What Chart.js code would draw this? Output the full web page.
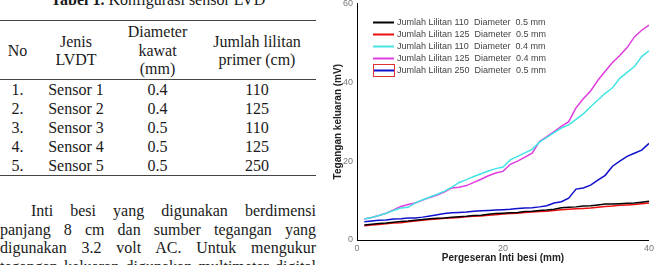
<!DOCTYPE html>
<html>
<head>
<meta charset="utf-8">
<script src="https://cdn.jsdelivr.net/npm/chart.js@4.4.1/dist/chart.umd.min.js"></script>
<style>
html, body { margin:0; padding:0; background:#fff; }
body { width:657px; height:265px; overflow:hidden; position:relative; font-family:"Liberation Serif","Times New Roman",serif; color:#1a1a1a; }
#tblTitle { position:absolute; left:0; top:-9px; width:316px; text-align:center; font-size:16px; line-height:18px; }
table { position:absolute; left:0; top:20px; width:316px; border-collapse:collapse; font-size:16px; table-layout:fixed; }
th, td { text-align:center; padding:0; font-weight:normal; }
thead th { line-height:18.5px; height:56px; vertical-align:middle; padding-top:2px; border-top:1px solid #444; border-bottom:1px solid #444; }
tbody td { height:19px; line-height:19px; }
tbody tr:last-child td { border-bottom:1px solid #444; }
#para { position:absolute; left:0; top:202px; width:316px; font-size:16px; line-height:18.5px; text-align:justify; text-indent:31px; margin:0; }
#chartBox { position:absolute; left:328px; top:-6px; width:329px; height:271px; }
</style>
</head>
<body>
<div id="tblTitle"><b>Tabel 1.</b> Konfigurasi sensor LVD</div>
<table>
  <colgroup><col style="width:35px"><col style="width:82px"><col style="width:81px"><col style="width:118px"></colgroup>
  <thead>
    <tr><th>No</th><th>Jenis<br>LVDT</th><th>Diameter<br>kawat<br>(mm)</th><th>Jumlah lilitan<br>primer (cm)</th></tr>
  </thead>
  <tbody>
    <tr><td>1.</td><td>Sensor 1</td><td>0.4</td><td>110</td></tr>
    <tr><td>2.</td><td>Sensor 2</td><td>0.4</td><td>125</td></tr>
    <tr><td>3.</td><td>Sensor 3</td><td>0.5</td><td>110</td></tr>
    <tr><td>4.</td><td>Sensor 4</td><td>0.5</td><td>125</td></tr>
    <tr><td>5.</td><td>Sensor 5</td><td>0.5</td><td>250</td></tr>
  </tbody>
</table>
<p id="para">Inti besi yang digunakan berdimensi panjang 8 cm dan sumber tegangan yang digunakan 3.2 volt AC. Untuk mengukur tegangan keluaran digunakan multimeter digital yang dihubungkan dengan kumparan sekunder.</p>
<div id="chartBox"><canvas id="myChart" width="329" height="271"></canvas></div>
<script>
// pergeseran inti besi (mm)
var displacement = [1,2,3,4,5,6,7,8,9,10,11,12,13,14,15,16,17,18,19,20,
                    21,22,23,24,25,26,27,28,29,30,31,32,33,34,35,36,37,38,39,40];

var seriesLabels = [
    'Jumlah Lilitan 110  Diameter  0.5 mm',
    'Jumlah Lilitan 125  Diameter  0.5 mm',
    'Jumlah Lilitan 110  Diameter  0.4 mm',
    'Jumlah Lilitan 125  Diameter  0.4 mm',
    'Jumlah Lilitan 250  Diameter  0.5 mm'
];

// tegangan keluaran (mV)
var lil110d05 = [3.8,4.0,4.2,4.3,4.5,4.7,4.8,5.0,5.2,5.4,5.5,5.6,5.8,5.9,6.0,6.2,6.3,6.5,6.7,6.8,
                 6.9,7.0,7.2,7.3,7.5,7.6,7.8,8.2,8.3,8.4,8.6,8.7,8.9,9.1,9.1,9.2,9.3,9.4,9.6,9.8];
var lil125d05 = [3.6,3.8,3.9,4.1,4.3,4.4,4.6,4.8,5.0,5.2,5.3,5.5,5.6,5.7,5.9,6.0,6.1,6.3,6.4,6.6,
                 6.7,6.8,7.0,7.1,7.2,7.3,7.5,7.7,7.8,7.9,8.0,8.1,8.3,8.5,8.6,8.8,8.9,9.0,9.2,9.4];
var lil110d04 = [5.3,5.7,6.2,6.8,7.5,8.1,8.3,9.4,10.2,10.9,11.6,12.4,13.4,14.6,15.3,16.1,16.8,17.5,18.1,18.5,
                 20.3,21.2,22.1,23.0,24.8,26.0,27.2,28.4,29.2,30.6,32.0,33.8,35.5,37.2,38.6,41.0,42.5,44.0,46.5,48.0];
var lil125d04 = [5.3,5.7,6.2,6.8,7.6,8.5,9.0,9.4,10.1,10.8,11.4,12.2,13.2,13.4,13.8,14.6,15.4,16.3,17.0,17.4,
                 19.2,20.0,21.0,22.0,25.0,26.2,27.5,28.8,30.0,33.5,35.8,37.8,40.5,42.8,45.0,46.8,48.8,51.5,53.2,54.5];
var lil250d05 = [4.6,4.8,5.0,5.1,5.3,5.4,5.6,5.6,5.8,6.1,6.4,6.7,6.9,7.0,7.1,7.3,7.4,7.5,7.6,7.7,
                 7.8,8.0,8.1,8.2,8.4,8.7,9.4,9.7,10.6,12.9,13.2,13.9,15.2,16.4,18.7,20.0,21.2,22.0,22.8,24.5];

var xTicks = [0, 20, 40];
var yTicks = [0, 20, 40, 60];

var allSeries = [lil110d05, lil125d05, lil110d04, lil125d04, lil250d05];
var lineColors = ['#000000', '#ee1010', '#44e4e4', '#e03ce0', '#1010cc'];

function toPoints(vals) {
    return vals.map(function (v, i) { return { x: displacement[i], y: v }; });
}

// legend drawn inside the plot, top left
var insideLegend = {
    id: 'insideLegend',
    afterDraw: function (chart) {
        var ctx = chart.ctx;
        var area = chart.chartArea;
        ctx.save();
        ctx.font = '9px "Liberation Sans", Arial, sans-serif';
        ctx.textBaseline = 'middle';
        chart.data.datasets.forEach(function (ds, i) {
            var y = Math.round(area.top + 19 + i * 12) + 0.5;
            var x0 = area.left + 16;
            ctx.strokeStyle = ds.borderColor;
            ctx.lineWidth = 2;
            ctx.beginPath();
            ctx.moveTo(x0, y);
            ctx.lineTo(x0 + 21, y);
            ctx.stroke();
            ctx.fillStyle = '#444';
            ctx.fillText(ds.label, x0 + 24, y);
            if (i === chart.data.datasets.length - 1) {
                ctx.strokeStyle = '#dd3333';
                ctx.lineWidth = 1;
                ctx.strokeRect(x0 + 0.5, y - 6, 21, 12);
            }
        });
        ctx.restore();
    }
};

var ctx = document.getElementById('myChart').getContext('2d');
var lvdtChart = new Chart(ctx, {
    type: 'line',
    data: {
        datasets: allSeries.map(function (vals, i) {
            return {
                label: seriesLabels[i],
                data: toPoints(vals),
                borderColor: lineColors[i],
                borderWidth: 1.5,
                pointRadius: 0,
                tension: 0,
                fill: false
            };
        })
    },
    options: {
        responsive: false,
        animation: false,
        layout: { padding: { top: 0, right: 3, bottom: 0, left: 0 } },
        scales: {
            x: {
                type: 'linear',
                min: xTicks[0],
                max: xTicks[xTicks.length - 1],
                afterBuildTicks: function (axis) {
                    axis.ticks = xTicks.map(function (v) { return { value: v }; });
                },
                afterFit: function (axis) { axis.height = 25; },
                grid: { display: false, drawTicks: false },
                border: { display: true, color: '#000', width: 1 },
                ticks: {
                    padding: 3,
                    maxRotation: 0,
                    color: '#777',
                    font: { family: '"Liberation Sans", Arial, sans-serif', size: 9 }
                },
                title: {
                    display: true,
                    text: 'Pergeseran Inti besi (mm)',
                    color: '#222',
                    padding: { top: 0, bottom: 1 },
                    font: { family: '"Liberation Sans", Arial, sans-serif', size: 10, weight: 'bold' }
                }
            },
            y: {
                min: yTicks[0],
                max: yTicks[yTicks.length - 1],
                afterBuildTicks: function (axis) {
                    axis.ticks = yTicks.map(function (v) { return { value: v }; });
                },
                afterFit: function (axis) { axis.width = 29; },
                grid: { display: false, drawTicks: false },
                border: { display: true, color: '#000', width: 1 },
                ticks: {
                    padding: 4,
                    color: '#777',
                    font: { family: '"Liberation Sans", Arial, sans-serif', size: 9 }
                },
                title: {
                    display: true,
                    text: 'Tegangan keluaran (mV)',
                    color: '#222',
                    padding: { top: 4, bottom: 0 },
                    font: { family: '"Liberation Sans", Arial, sans-serif', size: 10, weight: 'bold' }
                }
            }
        },
        plugins: {
            legend: { display: false },
            tooltip: { enabled: false }
        }
    },
    plugins: [insideLegend]
});
</script>
</body>
</html>
